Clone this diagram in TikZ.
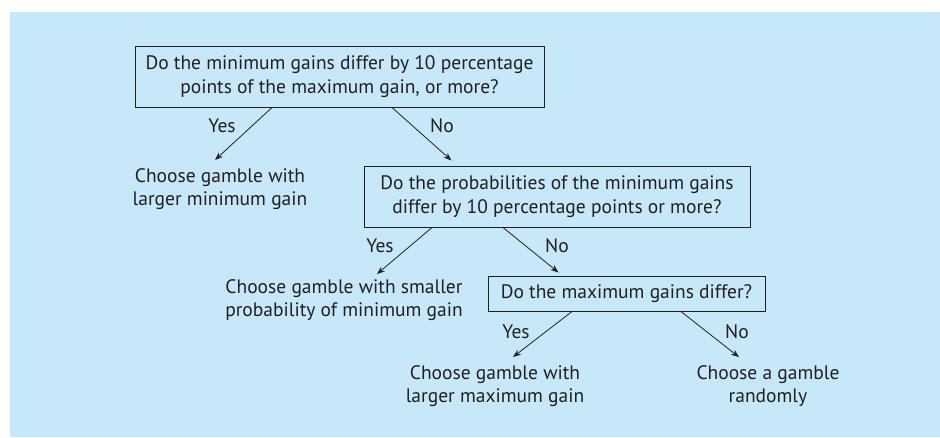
\documentclass[tikz,border=0pt]{standalone}
\usepackage{fontspec}
\setmainfont{PT Sans}
\usetikzlibrary{arrows.meta,positioning,calc}
\definecolor{panel}{RGB}{198,232,248}
\definecolor{ink}{RGB}{35,31,32}

\begin{document}
\begin{tikzpicture}[x=1pt,y=-1pt,>={Stealth[length=8pt,width=6pt]},
   every node/.style={text=ink,font=\fontsize{19.5}{23.5}\selectfont},
   question/.style={draw=ink,line width=1pt,align=center,inner sep=0pt},
   answer/.style={align=center,inner sep=0pt},
   branch/.style={->,draw=ink,line width=0.8pt}]
  \useasboundingbox (0,0) rectangle (940,437);
  \fill[panel] (10,12) rectangle (940,437);
  % questions
  \node[question,minimum width=409pt,minimum height=61pt] (q1) at (339.5,76.5)
    {Do the minimum gains differ by 10 percentage\\points of the maximum gain, or more?};
  \node[question,minimum width=386pt,minimum height=61pt] (q2) at (557,196.5)
    {Do the probabilities of the minimum gains\\differ by 10 percentage points or more?};
  \node[question,minimum width=277pt,minimum height=35pt] (q3) at (626.5,293.5)
    {Do the maximum gains differ?};
  % outcomes
  \node[answer] (a1) at (220,189) {Choose gamble with\\larger minimum gain};
  \node[answer] (a2) at (344,300) {Choose gamble with smaller\\probability of minimum gain};
  \node[answer] (a3) at (495,386) {Choose gamble with\\larger maximum gain};
  \node[answer] (a4) at (768,386) {Choose a gamble\\randomly};
  % branch labels
  \node (y1) at (222,126) {Yes};
  \node (n1) at (442,126) {No};
  \node (y2) at (380,246) {Yes};
  \node (n2) at (557,246) {No};
  \node (y3) at (516,332) {Yes};
  \node (n3) at (737,332) {No};
  % connectors
  \draw[branch] ($(q1.south)+(-67.5,0)$) -- ($(a1.north)+(-5,-8)$);
  \draw[branch] ($(q1.south)+(52.5,0)$) -- ($(q2.north west)+(88,-5)$);
  \draw[branch] ($(q2.south)+(-125,0)$) -- ($(a2.north)+(33,-5)$);
  \draw[branch] ($(q2.south)+(-54,0)$) -- ($(q3.north west)+(71,-3)$);
  \draw[branch] ($(q3.south)+(-54.5,0)$) -- ($(a3.north)+(18,-8)$);
  \draw[branch] ($(q3.south)+(54.5,0)$) -- ($(a4.north)+(-29,-8)$);
\end{tikzpicture}
\end{document}
